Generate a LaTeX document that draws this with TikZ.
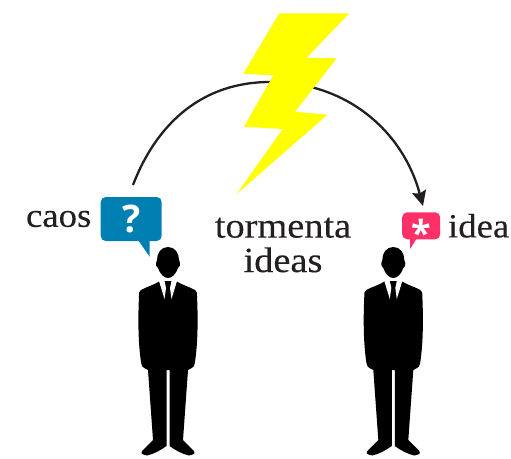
\documentclass[tikz,border=0pt]{standalone}
\usepackage{fontspec}
\setmainfont[FakeStretch=1.08,FakeBold=0.25]{Liberation Serif}
\setsansfont{Open Sans}
\usetikzlibrary{arrows.meta,positioning}
\definecolor{darktext}{HTML}{231F20}
\definecolor{caosblue}{HTML}{0080B2}
\definecolor{ideapink}{HTML}{FF3068}
\definecolor{boltyellow}{HTML}{FFFF00}
\tikzset{
  word/.style={text=darktext,font=\fontsize{34}{34}\selectfont,inner sep=0pt},
  bubble/.style={rounded corners=5pt,minimum width=#1,inner sep=0pt,text=white,font=\sffamily\bfseries},
  man/.pic={
    % body
    \fill[black] (-8,34) .. controls (-14,38) and (-22,40) .. (-27,43)
      .. controls (-29,45) .. (-29,49) .. controls (-30,70) and (-30,95) .. (-27,115)
      .. controls (-26,120) .. (-20,123) -- (-15,193) -- (-26,204)
      .. controls (-27,207) .. (-21,208.5) .. controls (-14,207) and (-7,203) .. (-1.5,199)
      -- (-1.5,123) -- (1.5,123) -- (1.5,199)
      .. controls (7,203) and (14,207) .. (21,208.5) .. controls (27,207) .. (26,204)
      -- (15,193) -- (20,123) .. controls (26,120) .. (27,115)
      .. controls (30,95) and (30,70) .. (29,49) .. controls (29,45) .. (27,43)
      .. controls (22,40) and (14,38) .. (8,34) -- cycle;
    % head
    \fill[black] (0,0) .. controls (-7,0) and (-11,6) .. (-11,13) -- (-12,16)
      .. controls (-12,19) .. (-10,21) .. controls (-8,27) and (-4,31) .. (0,31)
      .. controls (4,31) and (8,27) .. (10,21) .. controls (12,19) .. (12,16)
      -- (11,13) .. controls (11,6) and (7,0) .. (0,0) -- cycle;
    % collar
    \fill[white] (-9,34) -- (-3.5,34) -- (-2,41) -- (-3.5,52) -- cycle;
    \fill[white] (9,34) -- (3.5,34) -- (2,41) -- (3.5,52) -- cycle;
  }
}
\begin{document}
\begin{tikzpicture}[x=1pt,y=-1pt,>={Stealth[length=15pt,width=14pt,inset=2pt]}]
  \useasboundingbox (0,0) rectangle (511,458);
  % curve
  \coordinate (arcleft) at (133,185);
  \coordinate (arctop) at (270,82);
  \coordinate (arcright) at (423,206);
  \draw[->,darktext,line width=2.3pt] (arcleft) to[out=69,in=180] (arctop)
    to[out=0,in=105] (arcright);
  % bolt
  \fill[boltyellow] (279.3,13.3) -- (349.3,13.3) -- (306.7,57.7) -- (336.7,58.3)
    -- (295,111.7) -- (327.3,114.7) -- (236.7,194) -- (282.7,129) -- (244,126.7)
    -- (273.3,75.3) -- (243.3,73.7) -- cycle;
  % men
  \pic at (168,247) {man};
  \pic at (393.3,247) {man};
  % bubbles
  \node[bubble=61pt,minimum height=44pt,fill=caosblue,font=\sffamily\bfseries\fontsize{38}{38}\selectfont] (caos) at (131.2,219) {?};
  \fill[caosblue] (138,240) -- (149.7,256.7) -- (149.7,240) -- cycle;
  \node[bubble=38pt,minimum height=27pt,fill=ideapink] (idea) at (421.2,225.8) {};
  \node[text=white,inner sep=0pt,font=\sffamily\bfseries\fontsize{36}{36}\selectfont] (star) at (421,233) {*};
  \fill[ideapink] (410,238) -- (410,249) -- (417,238) -- cycle;
  % labels
  \node[word,left=9pt of caos] (caoslabel) {caos};
  \node[word,right=7.5pt of idea] (idealabel) {idea};
  \node[word,align=center,font=\fontsize{35.5}{35.5}\selectfont] (tormenta) at (283,245) {tormenta\\[-1pt]ideas};
\end{tikzpicture}
\end{document}
